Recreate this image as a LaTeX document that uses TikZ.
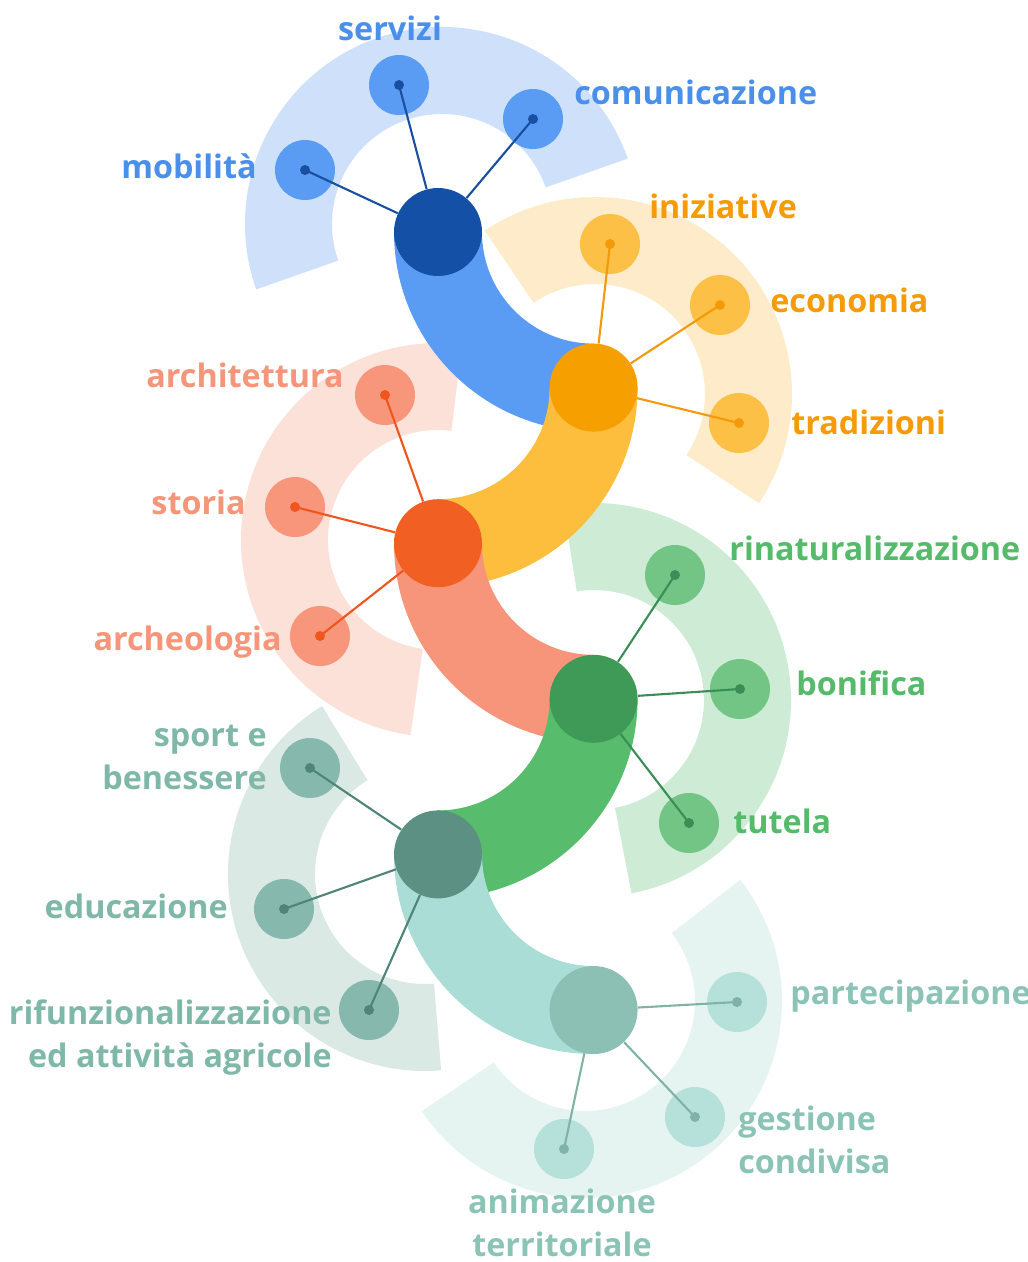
\documentclass[tikz,border=0pt]{standalone}
\usepackage{fontspec}
\usepackage{xcolor}
\usetikzlibrary{positioning}
\setmainfont{Open Sans}
\newfontfamily\labfont{Open Sans}

\definecolor{blueHub}{HTML}{1450A6}
\definecolor{blueBand}{HTML}{5A9BF3}
\definecolor{blueRing}{HTML}{CFE1FA}
\definecolor{blueSat}{HTML}{5A9BF3}
\definecolor{blueLine}{HTML}{1A4FA0}
\definecolor{blueTxt}{HTML}{4A8FEA}
\definecolor{orangeHub}{HTML}{F5A000}
\definecolor{orangeBand}{HTML}{FDBE3E}
\definecolor{orangeRing}{HTML}{FEEBC9}
\definecolor{orangeSat}{HTML}{FDC046}
\definecolor{orangeLine}{HTML}{F39A0A}
\definecolor{orangeTxt}{HTML}{F49B06}
\definecolor{redHub}{HTML}{F25F22}
\definecolor{redBand}{HTML}{F7957A}
\definecolor{redRing}{HTML}{FCE1D9}
\definecolor{redSat}{HTML}{F7967A}
\definecolor{redLine}{HTML}{F0551E}
\definecolor{redTxt}{HTML}{F5957A}
\definecolor{greenHub}{HTML}{3F9A57}
\definecolor{greenBand}{HTML}{57BC6C}
\definecolor{greenRing}{HTML}{CDEBD5}
\definecolor{greenSat}{HTML}{72C585}
\definecolor{greenLine}{HTML}{3A8E55}
\definecolor{greenTxt}{HTML}{55BB6B}
\definecolor{tealHub}{HTML}{5C9083}
\definecolor{tealBand}{HTML}{A9DDD5}
\definecolor{tealRing}{HTML}{DBE9E5}
\definecolor{tealSat}{HTML}{87B8AE}
\definecolor{tealLine}{HTML}{4E8578}
\definecolor{tealTxt}{HTML}{7FB8A9}
\definecolor{mintHub}{HTML}{8CC0B5}
\definecolor{mintRing}{HTML}{E5F4F1}
\definecolor{mintSat}{HTML}{B5E1DA}
\definecolor{mintLine}{HTML}{80B2A8}
\definecolor{mintTxt}{HTML}{8BC4B6}

\begin{document}
\begin{tikzpicture}[x=0.02cm,y=0.02cm,
	hub/.style={circle,inner sep=0pt,minimum size=1.76cm},
	sat/.style={circle,inner sep=0pt,minimum size=1.2cm},
	dot/.style={circle,inner sep=0pt,minimum size=0.2cm},
	band/.style={line width=1.76cm},
	spoke/.style={line width=1.2pt},
	lab/.style={font=\labfont\bfseries\fontsize{18.4}{24.2}\selectfont,inner sep=0pt}]
	\useasboundingbox (0,0) rectangle (1028,-1262);

	\coordinate(1) at (438,-232);
	\coordinate(2) at (593.6,-387.6);
	\coordinate(3) at (438,-543.2);
	\coordinate(4) at (593.6,-698.8);
	\coordinate(5) at (438,-854.4);
	\coordinate(6) at (593.6,-1010);

	\coordinate(c1) at (442,-224);
	\coordinate(c2) at (595,-394);
	\coordinate(c3) at (438,-540);
	\coordinate(c4) at (594,-700);
	\coordinate(c5) at (425,-874);
	\coordinate(c6) at (585,-1001);

	\fill[blueRing] ([shift={(c1)}]19.4:197) arc[start angle=19.4,end angle=199.4,radius=197] -- ([shift={(c1)}]199.4:110) arc[start angle=199.4,end angle=19.4,radius=110] -- cycle;
	\fill[orangeRing] ([shift={(c2)}]-33.7:197) arc[start angle=-33.7,end angle=124,radius=197] -- ([shift={(c2)}]124:110) arc[start angle=124,end angle=-33.7,radius=110] -- cycle;
	\fill[redRing] ([shift={(c3)}]83:197) arc[start angle=83,end angle=262,radius=197] -- ([shift={(c3)}]262:110) arc[start angle=262,end angle=83,radius=110] -- cycle;
	\fill[greenRing] ([shift={(c4)}]-79:197) arc[start angle=-79,end angle=99,radius=197] -- ([shift={(c4)}]99:110) arc[start angle=99,end angle=-79,radius=110] -- cycle;
	\fill[tealRing] ([shift={(c5)}]121.5:197) arc[start angle=121.5,end angle=274.7,radius=197] -- ([shift={(c5)}]274.7:110) arc[start angle=274.7,end angle=121.5,radius=110] -- cycle;
	\fill[mintRing] ([shift={(c6)}]-146:197) arc[start angle=-146,end angle=38,radius=197] -- ([shift={(c6)}]38:110) arc[start angle=38,end angle=-146,radius=110] -- cycle;

	\node[sat,fill=blueSat] (s11) at (399,-85) {};
	\node[sat,fill=blueSat] (s12) at (533,-119) {};
	\node[sat,fill=blueSat] (s13) at (305,-170) {};
	\node[sat,fill=orangeSat] (s21) at (610,-244) {};
	\node[sat,fill=orangeSat] (s22) at (720,-305) {};
	\node[sat,fill=orangeSat] (s23) at (739,-423) {};
	\node[sat,fill=redSat] (s31) at (385,-395) {};
	\node[sat,fill=redSat] (s32) at (295,-507) {};
	\node[sat,fill=redSat] (s33) at (320,-636) {};
	\node[sat,fill=greenSat] (s41) at (675,-575) {};
	\node[sat,fill=greenSat] (s42) at (740,-689) {};
	\node[sat,fill=greenSat] (s43) at (689,-823) {};
	\node[sat,fill=tealSat] (s51) at (310,-768) {};
	\node[sat,fill=tealSat] (s52) at (284,-909) {};
	\node[sat,fill=tealSat] (s53) at (369,-1010) {};
	\node[sat,fill=mintSat] (s61) at (737,-1002) {};
	\node[sat,fill=mintSat] (s62) at (695,-1117) {};
	\node[sat,fill=mintSat] (s63) at (564,-1149) {};

	\draw[band,blueBand] (1) arc[start angle=180,end angle=270,radius=155.6];
	\draw[band,orangeBand] (2) arc[start angle=0,end angle=-90,radius=155.6];
	\draw[band,redBand] (3) arc[start angle=180,end angle=270,radius=155.6];
	\draw[band,greenBand] (4) arc[start angle=0,end angle=-90,radius=155.6];
	\draw[band,tealBand] (5) arc[start angle=180,end angle=270,radius=155.6];

	\node[hub,fill=blueHub] (h1) at (1) {};
	\node[hub,fill=orangeHub] (h2) at (2) {};
	\node[hub,fill=redHub] (h3) at (3) {};
	\node[hub,fill=greenHub] (h4) at (4) {};
	\node[hub,fill=tealHub] (h5) at (5) {};
	\node[hub,fill=mintHub] (h6) at (6) {};

	\draw[spoke,blueLine] (s11.center) -- (h1);
	\draw[spoke,blueLine] (s12.center) -- (h1);
	\draw[spoke,blueLine] (s13.center) -- (h1);
	\draw[spoke,orangeLine] (s21.center) -- (h2);
	\draw[spoke,orangeLine] (s22.center) -- (h2);
	\draw[spoke,orangeLine] (s23.center) -- (h2);
	\draw[spoke,redLine] (s31.center) -- (h3);
	\draw[spoke,redLine] (s32.center) -- (h3);
	\draw[spoke,redLine] (s33.center) -- (h3);
	\draw[spoke,greenLine] (s41.center) -- (h4);
	\draw[spoke,greenLine] (s42.center) -- (h4);
	\draw[spoke,greenLine] (s43.center) -- (h4);
	\draw[spoke,tealLine] (s51.center) -- (h5);
	\draw[spoke,tealLine] (s52.center) -- (h5);
	\draw[spoke,tealLine] (s53.center) -- (h5);
	\draw[spoke,mintLine] (s61.center) -- (h6);
	\draw[spoke,mintLine] (s62.center) -- (h6);
	\draw[spoke,mintLine] (s63.center) -- (h6);

	\node[dot,fill=blueLine] at (s11) {};
	\node[dot,fill=blueLine] at (s12) {};
	\node[dot,fill=blueLine] at (s13) {};
	\node[dot,fill=orangeLine] at (s21) {};
	\node[dot,fill=orangeLine] at (s22) {};
	\node[dot,fill=orangeLine] at (s23) {};
	\node[dot,fill=redLine] at (s31) {};
	\node[dot,fill=redLine] at (s32) {};
	\node[dot,fill=redLine] at (s33) {};
	\node[dot,fill=greenLine] at (s41) {};
	\node[dot,fill=greenLine] at (s42) {};
	\node[dot,fill=greenLine] at (s43) {};
	\node[dot,fill=tealLine] at (s51) {};
	\node[dot,fill=tealLine] at (s52) {};
	\node[dot,fill=tealLine] at (s53) {};
	\node[dot,fill=mintLine] at (s61) {};
	\node[dot,fill=mintLine] at (s62) {};
	\node[dot,fill=mintLine] at (s63) {};

	\node[lab,text=blueTxt,anchor=base] (t11) at (390,-40) {servizi};
	\node[lab,text=blueTxt,anchor=base west] (t12) at (574,-104) {comunicazione};
	\node[lab,text=blueTxt,anchor=base east] (t13) at (257,-178) {mobilità};
	\node[lab,text=orangeTxt,anchor=base west] (t21) at (649,-218) {iniziative};
	\node[lab,text=orangeTxt,anchor=base west] (t22) at (770,-312) {economia};
	\node[lab,text=orangeTxt,anchor=base west] (t23) at (791,-434) {tradizioni};
	\node[lab,text=redTxt,anchor=base east] (t31) at (344,-387) {architettura};
	\node[lab,text=redTxt,anchor=base east] (t32) at (246,-514) {storia};
	\node[lab,text=redTxt,anchor=base east] (t33) at (282,-650) {archeologia};
	\node[lab,text=greenTxt,anchor=base west] (t41) at (729,-560) {rinaturalizzazione};
	\node[lab,text=greenTxt,anchor=base west] (t42) at (796,-695) {bonifica};
	\node[lab,text=greenTxt,anchor=base west] (t43) at (733,-833) {tutela};
	\node[lab,text=tealTxt,anchor=base east,align=right] (t51) at (267,-789) {sport e\\benessere};
	\node[lab,text=tealTxt,anchor=base east] (t52) at (228,-918) {educazione};
	\node[lab,text=tealTxt,anchor=base east,align=right] (t53) at (332,-1067) {rifunzionalizzazione\\ed attività agricole};
	\node[lab,text=mintTxt,anchor=base west] (t61) at (790,-1004) {partecipazione};
	\node[lab,text=mintTxt,anchor=base west,align=left] (t62) at (738,-1173) {gestione\\condivisa};
	\node[lab,text=mintTxt,anchor=base,align=center] (t63) at (562,-1256) {animazione\\territoriale};
\end{tikzpicture}
\end{document}
